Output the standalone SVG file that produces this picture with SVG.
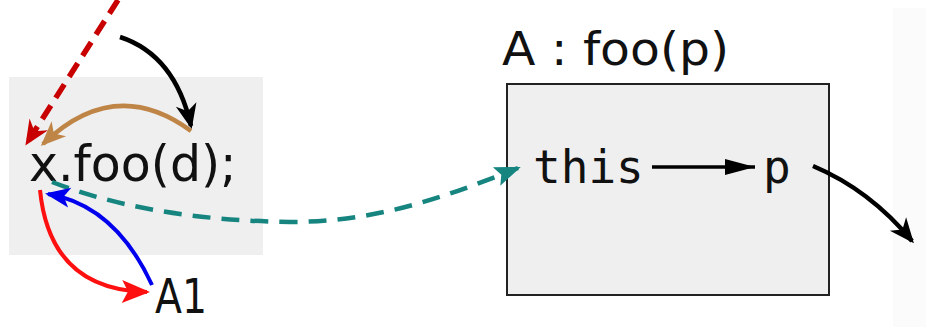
<svg xmlns="http://www.w3.org/2000/svg" width="926" height="327" viewBox="0 0 926 327">
<defs>
<style>
.sans{font-family:"DejaVu Sans",sans-serif;fill:#111}
.mono{font-family:"DejaVu Sans Mono",monospace;fill:#111}
.c{fill:none}
</style>
<marker id="hk" viewBox="-30 -13 34 26" refX="-3" refY="0" markerWidth="34" markerHeight="26" markerUnits="userSpaceOnUse" orient="auto"><path d="M0,0 L-25,-10.5 L-18,0 L-25,10.5 Z" fill="#000"/></marker>
<marker id="hb" viewBox="-30 -13 34 26" refX="-3" refY="0" markerWidth="34" markerHeight="26" markerUnits="userSpaceOnUse" orient="auto"><path d="M0,0 L-25,-10.5 L-18,0 L-25,10.5 Z" fill="#bf8547"/></marker>
<marker id="hdr" viewBox="-30 -13 34 26" refX="-3" refY="0" markerWidth="34" markerHeight="26" markerUnits="userSpaceOnUse" orient="auto"><path d="M0,0 L-25,-11 L-17,0 L-25,11 Z" fill="#c80000"/></marker>
<marker id="ht" viewBox="-30 -13 34 26" refX="-3" refY="0" markerWidth="34" markerHeight="26" markerUnits="userSpaceOnUse" orient="auto"><path d="M0,0 L-26,-10 L-21,0 L-26,10 Z" fill="#168580"/></marker>
<marker id="hr" viewBox="-32 -14 36 28" refX="-3" refY="0" markerWidth="36" markerHeight="28" markerUnits="userSpaceOnUse" orient="auto"><path d="M0,0 L-28,-11.5 L-22,0 L-28,11.5 Z" fill="#ff1010"/></marker>
<marker id="hbl" viewBox="-30 -13 34 26" refX="-3" refY="0" markerWidth="34" markerHeight="26" markerUnits="userSpaceOnUse" orient="auto"><path d="M0,0 L-25,-10 L-19,0 L-25,10 Z" fill="#0000ee"/></marker>
<marker id="hs" viewBox="-32 -10 34 20" refX="0" refY="0" markerWidth="34" markerHeight="20" markerUnits="userSpaceOnUse" orient="auto"><path d="M0,0 L-30,-8 L-30,8 Z" fill="#000"/></marker>
</defs>
<rect x="0" y="0" width="926" height="327" fill="#fff"/>
<rect x="893" y="8" width="33" height="319" fill="#fbfbfb"/>
<g id="call">
<rect x="9" y="77" width="254" height="178" fill="#efefef"/>
<text class="sans" x="29" y="181" font-size="49">x.foo(d);</text>
</g>
<g id="a1">
<text class="sans" x="155" y="313" font-size="48" textLength="52" lengthAdjust="spacingAndGlyphs">A1</text>
</g>
<g id="frame">
<text class="sans" x="502" y="65" font-size="47" textLength="227" lengthAdjust="spacingAndGlyphs">A : foo(p)</text>
<rect x="507" y="84" width="322" height="211" fill="#efefef" stroke="#222" stroke-width="2"/>
<text id="this" class="mono" x="533" y="183" font-size="46">this</text>
<text id="p" class="mono" x="763" y="183" font-size="46">p</text>
</g>
<g id="connectors">
<path class="c" d="M118,0 L27,143" stroke="#c80000" stroke-width="5.5" stroke-dasharray="16 9" marker-end="url(#hdr)"/>
<path class="c" d="M120,37 Q175,55 191,126" stroke="#000" stroke-width="4.5" marker-end="url(#hk)"/>
<path class="c" d="M191,131 Q115,75 43,144" stroke="#bf8547" stroke-width="4.5" marker-end="url(#hb)"/>
<path class="c" d="M52,182 Q150,220 290,222 C380,222 450,195 518,168" stroke="#168580" stroke-width="4.5" stroke-dasharray="18 11" marker-end="url(#ht)"/>
<path class="c" d="M40,190 Q50,290 147,292" stroke="#ff1010" stroke-width="4" marker-end="url(#hr)"/>
<path class="c" d="M152,285 Q115,205 48,194" stroke="#0000ee" stroke-width="4" marker-end="url(#hbl)"/>
<path class="c" d="M652,167 L755,167" stroke="#000" stroke-width="3.5" marker-end="url(#hs)"/>
<path class="c" d="M813,166 Q870,190 912,241" stroke="#000" stroke-width="4.5" marker-end="url(#hk)"/>
</g>
</svg>
